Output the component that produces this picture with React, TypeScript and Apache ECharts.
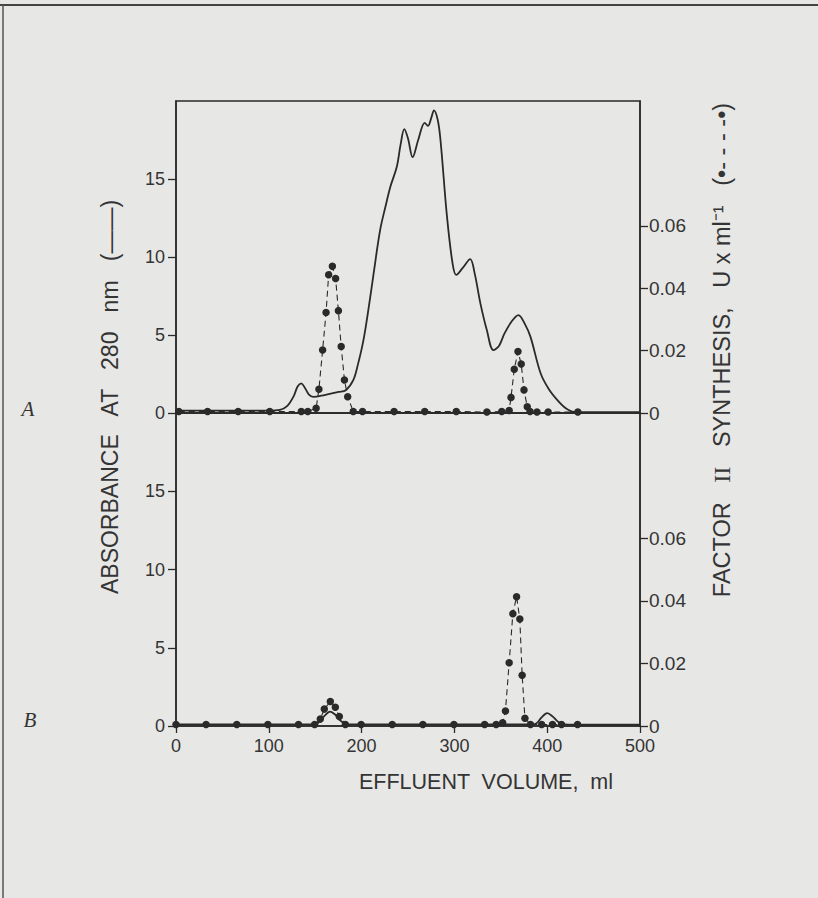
import React, { useEffect, useRef } from "react";
import * as echarts from "echarts";

// ---- Data ----
// Panel A, absorbance at 280 nm (solid line)
const absAVol = [0, 50, 100, 112, 120, 127, 131, 135, 139, 143, 148, 160, 175, 183, 191, 196, 202, 208, 213, 220, 226, 231, 238, 242, 246, 250, 255, 261, 268, 271.5, 275, 278, 282, 285, 292, 298, 302, 309, 317, 322, 328, 335, 342, 348, 354, 362, 369, 376, 382, 393, 402, 411, 420, 429, 460, 500];
const absA = [0.15, 0.15, 0.15, 0.2, 0.45, 1.1, 1.7, 1.9, 1.6, 1.2, 1.03, 1.15, 1.35, 1.46, 2.1, 3.1, 4.67, 6.9, 8.96, 11.74, 13.3, 14.5, 15.8, 17.2, 18.2, 17.6, 16.4, 17.5, 18.6, 18.4, 18.9, 19.4, 18.8, 17.5, 12.6, 9.6, 8.85, 9.3, 9.86, 8.9, 7.03, 5.3, 4.03, 4.3, 5.1, 5.9, 6.28, 5.7, 4.88, 2.53, 1.5, 0.82, 0.3, 0.07, 0.05, 0.05];

// Panel A, factor II synthesis (dots + dashed line)
const synAVol = [3, 34, 67, 101, 135, 142, 151, 154, 158, 161.7, 164.5, 168.5, 172, 175, 178, 181.5, 185, 191, 201, 235, 268, 302, 335, 351, 359, 361, 364.5, 368.5, 372, 375, 378.5, 381.5, 389, 401, 433];
const synA = [0.0005, 0.0005, 0.0005, 0.0005, 0.0005, 0.0005, 0.0015, 0.0076, 0.0202, 0.0322, 0.0443, 0.047, 0.0431, 0.0328, 0.0213, 0.0106, 0.0052, 0.0005, 0.0005, 0.0005, 0.0005, 0.0005, 0.0003, 0.0005, 0.0008, 0.005, 0.014, 0.0197, 0.0157, 0.0074, 0.002, 0.0005, 0.0003, 0.0003, 0.0003];

// Panel B, absorbance at 280 nm (solid line)
const absBVol = [0, 100, 150, 155, 160, 166, 172, 178, 185, 300, 385, 389, 394, 400, 406, 412, 418, 430, 500];
const absB = [0.1, 0.1, 0.1, 0.3, 0.65, 0.92, 0.7, 0.3, 0.1, 0.1, 0.1, 0.2, 0.55, 0.82, 0.6, 0.25, 0.1, 0.08, 0.08];

// Panel B, factor II synthesis (dots + dashed line)
const synBVol = [0, 32.4, 65.5, 99, 132, 149.4, 155.5, 159.8, 166.3, 171.7, 176, 182.5, 199.5, 233, 266, 299.5, 332.6, 345, 352, 355, 359, 363, 367, 370.5, 373, 376, 382, 394, 405.7, 415.4, 432.7];
const synB = [0.0005, 0.0005, 0.0005, 0.0005, 0.0005, 0.0005, 0.0022, 0.0054, 0.0078, 0.006, 0.003, 0.0005, 0.0005, 0.0005, 0.0005, 0.0005, 0.0005, 0.0005, 0.001, 0.0048, 0.0202, 0.0359, 0.0413, 0.0342, 0.0162, 0.0025, 0.0005, 0.0005, 0.0005, 0.0005, 0.0005];

// Axis ticks
const xTicks = [0, 100, 200, 300, 400, 500];
const absTicks = [0, 5, 10, 15];
const synTicks = [0, 0.02, 0.04, 0.06];

const zip = (xs: number[], ys: number[]) => xs.map((x, i) => [x, ys[i]]);

const INK = "#2a2a2a";
const TXT = "#343434";
const SANS = "Liberation Sans, Arial, sans-serif";

export default function App() {
  const ref = useRef<HTMLDivElement>(null);

  useEffect(() => {
    if (!ref.current) return;
    const chart = echarts.init(ref.current, undefined, { renderer: "svg" });

    const gridCommon = {
      left: 176,
      width: 464,
      show: true,
      borderColor: INK,
      borderWidth: 1.5,
      backgroundColor: "transparent",
      containLabel: false,
    };

    const xAxisBase = (gridIndex: number, labels: boolean) => ({
      type: "value" as const,
      gridIndex,
      min: 0,
      max: 500,
      interval: 100,
      axisLine: { show: true, lineStyle: { color: INK, width: 1.5 } },
      axisTick: {
        show: labels,
        length: 7,
        inside: false,
        customValues: xTicks,
        lineStyle: { color: INK, width: 1.3 },
      },
      axisLabel: {
        show: labels,
        customValues: xTicks,
        color: TXT,
        fontSize: 18,
        fontFamily: SANS,
        margin: 11,
      },
      splitLine: { show: false },
    });

    const leftAxis = (gridIndex: number) => ({
      type: "value" as const,
      gridIndex,
      position: "left" as const,
      min: 0,
      max: 20,
      interval: 5,
      axisLine: { show: true, lineStyle: { color: INK, width: 1.5 } },
      axisTick: {
        show: true,
        length: 8,
        customValues: absTicks,
        lineStyle: { color: INK, width: 1.3 },
      },
      axisLabel: {
        customValues: absTicks,
        color: TXT,
        fontSize: 18,
        fontFamily: SANS,
        margin: 11,
      },
      splitLine: { show: false },
    });

    const rightAxis = (gridIndex: number) => ({
      type: "value" as const,
      gridIndex,
      position: "right" as const,
      min: 0,
      max: 0.1,
      interval: 0.02,
      axisLine: { show: true, lineStyle: { color: INK, width: 1.5 } },
      axisTick: {
        show: true,
        length: 8,
        customValues: synTicks,
        lineStyle: { color: INK, width: 1.3 },
      },
      axisLabel: {
        customValues: synTicks,
        color: TXT,
        fontSize: 19,
        fontFamily: SANS,
        margin: 9,
        formatter: (v: number) => (v === 0 ? "0" : v.toFixed(2)),
      },
      splitLine: { show: false },
    });

    const solid = (xi: number, yi: number, data: number[][]) => ({
      type: "line" as const,
      xAxisIndex: xi,
      yAxisIndex: yi,
      data,
      smooth: 0.35,
      showSymbol: false,
      symbol: "none",
      lineStyle: { color: INK, width: 1.8 },
      z: 3,
    });

    const dotted = (xi: number, yi: number, data: number[][]) => ({
      type: "line" as const,
      xAxisIndex: xi,
      yAxisIndex: yi,
      data,
      smooth: false,
      symbol: "circle",
      symbolSize: 7.5,
      showSymbol: true,
      itemStyle: { color: INK, borderWidth: 0 },
      lineStyle: { color: INK, width: 1.1, type: [6, 4] as any },
      z: 4,
    });

    chart.setOption({
      animation: false,
      backgroundColor: "#e7e7e5",
      grid: [
        { ...gridCommon, top: 101, height: 312 },
        { ...gridCommon, top: 413, height: 313 },
      ],
      xAxis: [xAxisBase(0, false), xAxisBase(1, true)],
      yAxis: [leftAxis(0), rightAxis(0), leftAxis(1), rightAxis(1)],
      series: [
        solid(0, 0, zip(absAVol, absA)),
        dotted(0, 1, zip(synAVol, synA)),
        solid(1, 2, zip(absBVol, absB)),
        dotted(1, 3, zip(synBVol, synB)),
      ],
      graphic: [
        // scan frame
        { type: "line", shape: { x1: 0, y1: 5, x2: 818, y2: 5 }, style: { stroke: "#444", lineWidth: 2 } },
        { type: "line", shape: { x1: 3, y1: 5, x2: 3, y2: 898 }, style: { stroke: "#555", lineWidth: 1.5 } },
        // panel letters
        {
          type: "text",
          x: 28,
          y: 409,
          style: {
            text: "A",
            font: "italic 21px 'Liberation Serif', serif",
            fill: TXT,
            align: "center",
            verticalAlign: "middle",
          },
        },
        {
          type: "text",
          x: 30,
          y: 720,
          style: {
            text: "B",
            font: "italic 21px 'Liberation Serif', serif",
            fill: TXT,
            align: "center",
            verticalAlign: "middle",
          },
        },
        // left axis name
        {
          type: "text",
          x: 110,
          y: 397,
          rotation: Math.PI / 2,
          style: {
            text: "ABSORBANCE   AT   280   nm   (——)",
            font: "23px 'Liberation Sans', Arial, sans-serif",
            fill: TXT,
            align: "center",
            verticalAlign: "middle",
          },
        },
        // right axis name
        {
          type: "text",
          x: 722,
          y: 350,
          rotation: Math.PI / 2,
          style: {
            text: "FACTOR   {s|II}   SYNTHESIS,   U x ml⁻¹   (•- - - -•)",
            font: "23.5px 'Liberation Sans', Arial, sans-serif",
            fill: TXT,
            align: "center",
            verticalAlign: "middle",
            rich: {
              s: {
                font: "24px 'Liberation Serif', serif",
                fill: TXT,
              },
            },
          },
        },
        // x axis name
        {
          type: "text",
          x: 486,
          y: 782,
          style: {
            text: "EFFLUENT  VOLUME,  ml",
            font: "21.5px 'Liberation Sans', Arial, sans-serif",
            fill: TXT,
            align: "center",
            verticalAlign: "middle",
          },
        },
      ],
    });

    return () => {
      chart.dispose();
    };
  }, []);

  return (
    <div
      ref={ref}
      style={{ position: "absolute", left: 0, top: 0, width: 818, height: 898 }}
    />
  );
}
